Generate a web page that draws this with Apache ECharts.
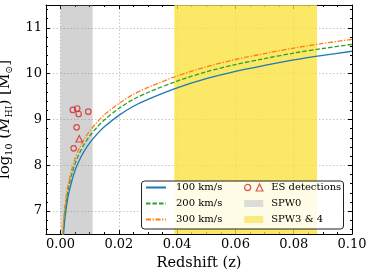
<!DOCTYPE html>
<html>
<head>
<meta charset="utf-8">
<script src="https://cdn.jsdelivr.net/npm/echarts@6/dist/echarts.min.js"></script>
<style>
html,body{margin:0;padding:0;background:#fff;}
#c{width:374px;height:275px;}
</style>
</head>
<body>
<div id="c"></div>
<script>
// ---- data ----
var redshift = [0.0007, 0.0008, 0.001, 0.0012, 0.0015, 0.002, 0.0025, 0.003, 0.004, 0.005, 0.006, 0.007, 0.008, 0.010, 0.0125, 0.015, 0.02, 0.025, 0.03, 0.04, 0.05, 0.06, 0.07, 0.08, 0.09, 0.10];
var mass100 = [6.18, 6.30, 6.49, 6.65, 6.84, 7.09, 7.29, 7.44, 7.69, 7.89, 8.05, 8.18, 8.30, 8.49, 8.68, 8.84, 9.09, 9.29, 9.44, 9.69, 9.89, 10.05, 10.18, 10.30, 10.40, 10.49];
var mass200 = [6.33, 6.45, 6.64, 6.80, 6.99, 7.24, 7.44, 7.59, 7.84, 8.04, 8.20, 8.33, 8.45, 8.64, 8.83, 8.99, 9.24, 9.44, 9.59, 9.84, 10.04, 10.20, 10.33, 10.45, 10.55, 10.64];
var mass300 = [6.44, 6.56, 6.75, 6.91, 7.10, 7.35, 7.55, 7.70, 7.95, 8.15, 8.31, 8.44, 8.56, 8.75, 8.94, 9.10, 9.35, 9.55, 9.70, 9.95, 10.15, 10.31, 10.44, 10.56, 10.66, 10.75];
var esCircleZ = [0.0042, 0.0057, 0.0062, 0.0095, 0.0055, 0.0045];
var esCircleM = [9.21, 9.24, 9.12, 9.17, 8.83, 8.37];
var esTriangleZ = [0.0064];
var esTriangleM = [8.58];
var spw0Range = [0.0, 0.011];
var spw34Range = [0.039, 0.088];
var xTickLabels = [0.00, 0.02, 0.04, 0.06, 0.08, 0.10];
var yTickLabels = [7, 8, 9, 10, 11];
var xRange = [-0.005, 0.10];
var yRange = [6.5, 11.5];
var seriesNames = ['100 km/s', '200 km/s', '300 km/s', 'ES detections', 'SPW0', 'SPW3 & 4'];

// minor tick positions
var xMinor = [];
for (var i = -1; i <= 20; i++) { if (i % 4 !== 0) xMinor.push(+(i * 0.005).toFixed(4)); }
var yMinor = [];
for (var j = 33; j <= 57; j++) { if (j % 5 !== 0) yMinor.push(+(j * 0.2).toFixed(2)); }

function pairs(xs, ys) { return xs.map(function (x, k) { return [x, ys[k]]; }); }

var FONT = 'DejaVu Serif';
var chart = echarts.init(document.getElementById('c'), null, {renderer: 'canvas'});

function xAx(pos, major, showLabel, showGrid) {
  return {
    type: 'value', position: pos, min: xRange[0], max: xRange[1],
    axisLine: {show: major, onZero: false, lineStyle: {color: '#000', width: 1}},
    axisTick: {show: true, inside: true, length: major ? 4 : 2, customValues: major ? xTickLabels : xMinor, lineStyle: {color: '#000', width: 1}},
    axisLabel: {show: showLabel, customValues: xTickLabels, margin: 4, color: '#000', fontFamily: FONT, fontSize: 13,
      formatter: function (v) { return v.toFixed(2); }},
    splitLine: {show: showGrid, lineStyle: {color: '#b8b8b8', type: [1.5, 2], width: 0.8}},
    name: showLabel ? 'Redshift (z)' : '', nameLocation: 'middle', nameGap: 18,
    nameTextStyle: {color: '#000', fontFamily: FONT, fontSize: 14.5}
  };
}
function yAx(pos, major, showLabel, showGrid) {
  return {
    type: 'value', position: pos, min: yRange[0], max: yRange[1],
    axisLine: {show: major, onZero: false, lineStyle: {color: '#000', width: 1}},
    axisTick: {show: true, inside: true, length: major ? 4 : 2, customValues: major ? yTickLabels : yMinor, lineStyle: {color: '#000', width: 1}},
    axisLabel: {show: showLabel, customValues: yTickLabels, margin: 4, color: '#000', fontFamily: FONT, fontSize: 13},
    splitLine: {show: showGrid, lineStyle: {color: '#b8b8b8', type: [1.5, 2], width: 0.8}},
    name: showLabel ? '{n|log}{s|10}{n| (}{i|M}{s|HI}{n|) [M}{s|⊙}{n|]}' : '',
    nameLocation: 'middle', nameGap: 20,
    nameTextStyle: {color: '#000', fontFamily: FONT, fontSize: 15,
      rich: {
        n: {fontFamily: FONT, fontSize: 15, lineHeight: 19, color: '#000'},
        i: {fontFamily: FONT, fontStyle: 'italic', fontSize: 15, lineHeight: 19, color: '#000'},
        s: {fontFamily: FONT, fontSize: 9.5, lineHeight: 11, verticalAlign: 'bottom', color: '#000'}
      }}
  };
}

var option = {
  animation: false,
  backgroundColor: '#fff',
  grid: {left: 46, right: 22, top: 5, bottom: 41, outerBoundsMode: 'none', containLabel: false},
  xAxis: [xAx('bottom', true, true, true), xAx('bottom', false, false, false), xAx('top', true, false, false), xAx('top', false, false, false)],
  yAxis: [yAx('left', true, true, true), yAx('left', false, false, false), yAx('right', true, false, false), yAx('right', false, false, false)],
  legend: [
    {
      left: 145, top: 181.5, orient: 'vertical', padding: 0, itemGap: 4, z: 20,
      itemWidth: 20, itemHeight: 8,
      textStyle: {fontFamily: FONT, fontSize: 10, color: '#000', lineHeight: 12, padding: [0, 0, 0, 5]},
      data: [
        {name: seriesNames[0], itemStyle: {opacity: 0}},
        {name: seriesNames[1], itemStyle: {opacity: 0}},
        {name: seriesNames[2], itemStyle: {opacity: 0}}
      ]
    },
    {
      left: 244, top: 181.5, orient: 'vertical', padding: 0, itemGap: 4, z: 20,
      itemWidth: 19, itemHeight: 7,
      textStyle: {fontFamily: FONT, fontSize: 10, color: '#000', lineHeight: 12, padding: [0, 0, 0, 3]},
      data: [
        {name: seriesNames[3], icon: 'path://M0.3,3.5A2.7,2.7,0,1,1,5.7,3.5A2.7,2.7,0,1,1,0.3,3.5ZM10.5,6.6L13.5,0.4L16.5,6.6Z',
          itemStyle: {color: 'rgba(0,0,0,0)', borderColor: '#d62728', borderWidth: 1.2}},
        {name: seriesNames[4], icon: 'rect', itemStyle: {color: '#d3d3d3', borderWidth: 0}},
        {name: seriesNames[5], icon: 'rect', itemStyle: {color: '#f9e564', borderWidth: 0}}
      ]
    }
  ],
  graphic: [{
    type: 'rect', left: 141, top: 180.5, z: 10,
    shape: {width: 202, height: 48, r: 3},
    style: {fill: 'rgba(255,255,255,0.85)', stroke: '#222', lineWidth: 1}
  }],
  series: [
    {
      name: seriesNames[4], type: 'scatter', data: [], color: '#d3d3d3',
      markArea: {silent: true, itemStyle: {color: 'rgba(128,128,128,0.35)'},
        data: [[{xAxis: spw0Range[0]}, {xAxis: spw0Range[1]}]]}
    },
    {
      name: seriesNames[5], type: 'scatter', data: [], color: '#f9e564',
      markArea: {silent: true, itemStyle: {color: 'rgba(250,225,60,0.78)'},
        data: [[{xAxis: spw34Range[0]}, {xAxis: spw34Range[1]}]]}
    },
    {
      name: seriesNames[0], type: 'line', data: pairs(redshift, mass100), symbol: 'none', smooth: 0.3,
      color: '#1f77b4', lineStyle: {color: '#1f77b4', width: 1.3}, clip: true, z: 3
    },
    {
      name: seriesNames[1], type: 'line', data: pairs(redshift, mass200), symbol: 'none', smooth: 0.3,
      color: '#2ca02c', lineStyle: {color: '#2ca02c', width: 1.3, type: [4.5, 2]}, clip: true, z: 3
    },
    {
      name: seriesNames[2], type: 'line', data: pairs(redshift, mass300), symbol: 'none', smooth: 0.3,
      color: '#ff7f0e', lineStyle: {color: '#ff7f0e', width: 1.3, type: [5, 1.6, 1.3, 1.6]}, clip: true, z: 3
    },
    {
      name: seriesNames[3], type: 'scatter', data: pairs(esCircleZ, esCircleM), symbol: 'circle', symbolSize: 5.5,
      itemStyle: {color: 'rgba(0,0,0,0)', borderColor: '#d62728', borderWidth: 1.2}, z: 4
    },
    {
      name: seriesNames[3], type: 'scatter', data: pairs(esTriangleZ, esTriangleM), symbol: 'triangle', symbolSize: 6.5,
      itemStyle: {color: 'rgba(0,0,0,0)', borderColor: '#d62728', borderWidth: 1.2}, z: 4
    }
  ]
};
chart.setOption(option);
</script>
</body>
</html>
